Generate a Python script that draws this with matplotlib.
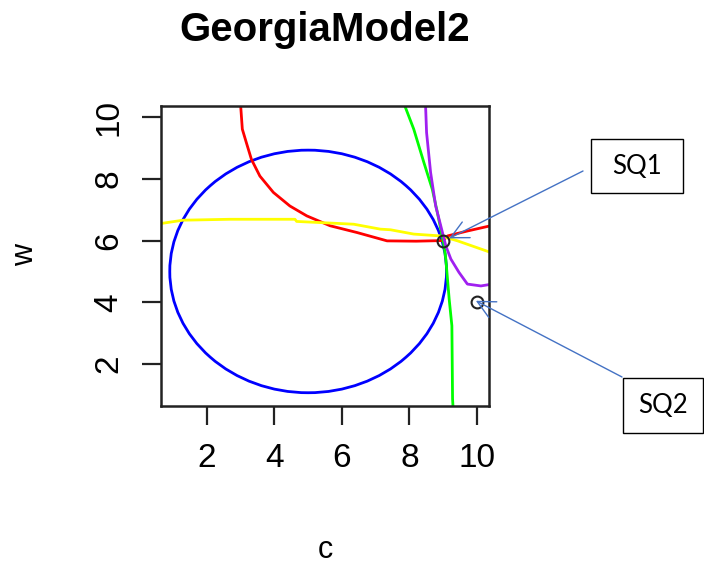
import matplotlib
matplotlib.use("Agg")
import matplotlib.pyplot as plt
from matplotlib.patches import Ellipse, Rectangle

plt.rcParams["font.family"] = ["Liberation Sans", "DejaVu Sans"]

# ideal point circle
blue_center = (5.0, 5.0)
blue_radius_c = 4.1
blue_radius_w = 3.93

red_c = [2.99, 3.00, 3.05, 3.17, 3.32, 3.57, 3.97, 4.46, 4.96, 5.65, 6.45, 7.34, 8.20, 9.00, 9.13, 9.72, 10.45]
red_w = [10.6, 10.38, 9.61, 9.17, 8.63, 8.09, 7.56, 7.12, 6.80, 6.48, 6.26, 5.99, 5.98, 6.00, 6.15, 6.31, 6.49]

yellow_c = [0.50, 0.62, 1.29, 2.68, 4.61, 4.66, 6.35, 7.14, 7.44, 8.13, 8.93, 9.43, 10.45]
yellow_w = [6.55, 6.55, 6.66, 6.69, 6.69, 6.62, 6.53, 6.37, 6.35, 6.21, 6.15, 5.99, 5.60]

green_c = [7.80, 7.86, 8.13, 8.43, 8.68, 8.83, 8.93, 9.03, 9.08, 9.18, 9.26, 9.28, 9.30]
green_w = [10.6, 10.38, 9.61, 8.53, 7.66, 6.91, 6.37, 5.83, 5.40, 4.10, 3.24, 0.87, 0.50]

purple_c = [8.48, 8.48, 8.51, 8.63, 8.78, 8.93, 9.08, 9.23, 9.47, 9.72, 10.12, 10.45]
purple_w = [10.6, 10.38, 9.50, 8.20, 7.12, 6.48, 5.83, 5.40, 4.97, 4.59, 4.53, 4.59]

sq_c = [9.0, 10.0]
sq_w = [6.0, 4.0]
sq_labels = ["SQ1", "SQ2"]

ticks = [2, 4, 6, 8, 10]

W, H = 704, 565
fig = plt.figure(figsize=(W / 100, H / 100), dpi=100)
ax = fig.add_axes([161 / W, 1 - 406 / H, 328 / W, 300 / H])

lw = 2.0
ax.add_patch(Ellipse(blue_center, 2 * blue_radius_c, 2 * blue_radius_w,
                     fill=False, ec="#0000FF", lw=lw))
ax.plot(red_c, red_w, color="#FF0000", lw=lw)
ax.plot(yellow_c, yellow_w, color="#FFFF00", lw=lw)
ax.plot(green_c, green_w, color="#00FF00", lw=lw)
ax.plot(purple_c, purple_w, color="#A020F0", lw=lw)
ax.plot(sq_c, sq_w, "o", mfc="none", mec="#222222", ms=8.5, mew=1.5)

ax.set_xlim(0.64, 10.36)
ax.set_ylim(0.64, 10.36)
ax.set_xticks(ticks)
ax.set_yticks(ticks)
ax.set_xticklabels([str(t) for t in ticks])
ax.set_yticklabels([str(t) for t in ticks], rotation=90, va="center")
ax.tick_params(length=13.5, width=1.6, labelsize=24, pad=13, color="#222222")
for s in ax.spines.values():
    s.set_linewidth(1.8)
    s.set_color("#222222")

# title and axis labels, R style
fig.text(325 / W, 1 - 41 / H, "GeorgiaModel2", ha="center", va="baseline",
         fontsize=29, fontweight="bold")
fig.text(325 / W, 1 - 558 / H, "c", ha="center", va="baseline", fontsize=22)
fig.text(25 / W, 1 - 255 / H, "w", ha="center", va="center", fontsize=22, rotation=90)

# callout boxes with arrows to the status quo points
arrow_tips = [(9.18, 6.07), (9.97, 4.05)]
arrow_tails = [(583, 171), (622, 377)]
boxes = [(591, 139, 92, 54), (623, 378, 80, 55)]
for lab, tip, tail, (bx, by, bw, bh) in zip(sq_labels, arrow_tips, arrow_tails, boxes):
    ax.annotate("", xy=tip, xycoords="data",
                xytext=(tail[0], H - tail[1]), textcoords="figure pixels",
                annotation_clip=False,
                arrowprops=dict(arrowstyle="->,head_length=0.9,head_width=0.45",
                                mutation_scale=14, color="#4472C4", lw=1,
                                shrinkA=0, shrinkB=0))
    fig.add_artist(Rectangle((bx / W, 1 - (by + bh) / H), bw / W, bh / H,
                             transform=fig.transFigure, fill=False,
                             ec="black", lw=1))
    fig.text((bx + bw / 2) / W, 1 - (by + bh / 2) / H, lab, ha="center",
             va="center", fontsize=18.5, family=["Lato", "DejaVu Sans"])

fig.savefig("out.png", dpi=100)
